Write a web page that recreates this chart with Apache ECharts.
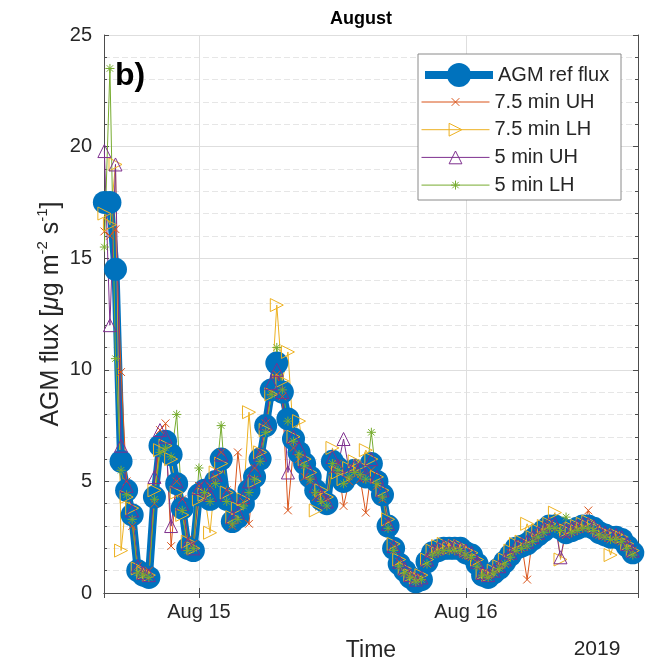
<!DOCTYPE html>
<html>
<head>
<meta charset="utf-8">
<title>August AGM flux</title>
<script src="https://cdn.jsdelivr.net/npm/echarts@6.0.0/dist/echarts.min.js"></script>
<style>
  html, body { margin: 0; padding: 0; background: #fff; }
  #chart { width: 649px; height: 662px; }
</style>
</head>
<body>
<div id="chart"></div>
<script>
// half-hourly samples, first one at 14 Aug 2019 15:30
const startTime = new Date(2019, 7, 14, 15, 30).getTime();
const stepMs = 30 * 60 * 1000;
const xMin = new Date(2019, 7, 14, 15, 28).getTime();
const xMax = new Date(2019, 7, 16, 15, 28).getTime();
const monthNames = ['Jan', 'Feb', 'Mar', 'Apr', 'May', 'Jun', 'Jul', 'Aug', 'Sep', 'Oct', 'Nov', 'Dec'];

const seriesNames = ['AGM ref flux', '7.5 min UH', '7.5 min LH', '5 min UH', '5 min LH'];

const refFlux = [
  17.5, 17.5, 14.5, 5.9, 4.6, 3.5, 1.0, 0.8, 0.7, 4.3, 6.6, 6.8,
  6.2, 4.9, 3.8, 2.0, 1.9, 4.4, 4.6, 4.2, 5.0, 6.0, 4.2, 3.2,
  3.4, 4.0, 4.6, 5.2, 6.0, 7.5, 9.1, 10.3, 9.0, 7.8, 6.9, 6.3,
  5.8, 5.2, 4.6, 4.2, 4.0, 5.9, 5.6, 5.0, 5.3, 5.5, 5.4, 5.2,
  5.8, 5.0, 4.4, 3.0, 2.0, 1.3, 1.0, 0.7, 0.5, 0.6, 1.4, 1.8,
  1.9, 2.0, 2.0, 2.0, 2.0, 1.8, 1.7, 1.3, 0.8, 0.7, 0.9, 1.1,
  1.4, 1.7, 2.0, 2.1, 2.2, 2.4, 2.6, 2.8, 3.0, 3.0, 2.9, 2.7,
  2.8, 2.9, 3.0, 3.0, 2.9, 2.7, 2.6, 2.5, 2.5, 2.4, 2.1, 1.8
];
const uh75 = [
  16.2, 16.0, 16.3, 9.9, 5.0, 3.0, 1.2, 0.9, 1.0, 4.0, 7.3, 7.6,
  2.1, 5.0, 4.2, 2.4, 2.2, 4.8, 4.3, 4.8, 5.2, 6.3, 4.6, 3.0,
  6.3, 4.1, 3.1, 5.6, 6.3, 7.6, 9.0, 9.8, 8.8, 3.7, 6.5, 6.0,
  5.2, 5.0, 4.3, 4.4, 4.2, 5.5, 5.8, 3.9, 5.0, 5.6, 5.1, 3.6,
  5.5, 4.8, 4.2, 3.2, 2.1, 1.4, 0.9, 0.8, 0.6, 0.7, 1.3, 1.9,
  2.0, 1.9, 2.1, 2.0, 1.9, 1.7, 1.6, 1.4, 0.9, 0.8, 0.9, 1.2,
  1.3, 1.8, 1.9, 2.2, 0.6, 2.5, 2.7, 2.9, 3.1, 2.9, 3.0, 2.6,
  2.9, 3.0, 3.0, 3.7, 2.8, 2.6, 2.7, 2.4, 2.6, 2.3, 2.2, 1.9
];
const lh75 = [
  17.0, 16.5, 19.2, 1.9, 4.3, 3.8, 1.1, 0.9, 0.8, 4.6, 6.4, 6.6,
  6.0, 4.5, 3.5, 2.3, 2.0, 4.2, 4.4, 2.7, 5.4, 5.8, 4.5, 3.4,
  3.8, 4.2, 8.1, 5.0, 6.3, 7.3, 8.9, 12.9, 9.5, 10.8, 7.0, 7.7,
  6.0, 5.4, 3.7, 4.6, 4.3, 6.5, 5.4, 5.1, 5.6, 5.9, 5.7, 6.4,
  6.0, 5.2, 4.6, 3.3, 2.2, 1.5, 1.1, 0.8, 0.7, 0.8, 1.5, 1.9,
  2.1, 2.2, 2.0, 2.1, 2.1, 1.9, 1.8, 1.5, 0.9, 0.8, 1.0, 1.2,
  1.5, 1.9, 2.2, 2.3, 3.1, 2.5, 2.8, 3.0, 3.1, 3.6, 1.5, 2.8,
  2.9, 3.0, 3.1, 3.2, 3.0, 2.8, 2.7, 1.7, 2.6, 2.5, 2.2, 1.9
];
const uh5 = [
  19.8, 12.0, 19.2, 6.6, 4.8, 3.7, 1.2, 0.9, 0.8, 5.2, 7.3, 7.0,
  3.0, 5.0, 4.0, 2.2, 2.0, 4.7, 4.8, 4.4, 5.3, 6.2, 4.4, 3.4,
  3.6, 4.3, 5.0, 5.5, 6.2, 7.6, 9.4, 10.0, 9.0, 5.4, 7.0, 6.5,
  5.9, 5.4, 4.8, 4.4, 4.1, 6.1, 5.7, 6.9, 5.5, 5.7, 5.6, 5.3,
  6.0, 5.2, 4.6, 3.1, 2.1, 1.4, 1.1, 0.8, 0.6, 0.7, 1.5, 1.9,
  2.0, 2.1, 2.1, 2.1, 2.0, 1.9, 1.8, 1.4, 0.9, 0.8, 1.0, 1.2,
  1.5, 1.8, 2.1, 2.2, 2.3, 2.5, 2.7, 2.9, 3.1, 3.1, 1.6, 2.8,
  2.9, 3.0, 3.1, 3.1, 3.0, 2.8, 2.7, 2.6, 2.6, 2.5, 2.2, 1.9
];
const lh5 = [
  15.5, 23.5, 10.5, 5.5, 4.4, 3.3, 0.9, 0.8, 0.7, 4.2, 6.3, 6.5,
  6.1, 8.0, 3.7, 1.9, 2.0, 5.6, 4.5, 4.1, 4.9, 7.5, 4.1, 3.1,
  3.3, 3.9, 4.5, 5.1, 5.9, 7.2, 8.9, 11.0, 9.1, 7.7, 6.8, 6.2,
  5.7, 5.1, 4.5, 4.1, 3.9, 5.8, 5.5, 4.9, 5.2, 5.4, 5.3, 5.1,
  7.2, 4.9, 4.3, 2.9, 1.9, 1.2, 0.9, 0.7, 0.5, 0.6, 1.3, 1.7,
  1.8, 1.9, 1.9, 1.9, 1.9, 1.7, 1.6, 1.2, 0.8, 0.7, 0.9, 1.1,
  1.3, 1.6, 1.9, 2.0, 2.1, 2.3, 2.5, 2.7, 2.9, 2.9, 2.8, 3.4,
  2.7, 2.8, 2.9, 2.9, 2.8, 2.6, 2.5, 2.4, 2.4, 2.3, 2.0, 1.7
];

const colors = ['#0072BD', '#D95319', '#EDB120', '#7E2F8E', '#77AC30'];
const markers = [
  'circle',
  'path://M0 0M20 20M4 4L16 16M4 16L16 4',           // x
  'path://M0 0L10 5L0 10Z',                           // >
  'path://M5 0L10 9L0 9Z',                            // ^
  'path://M0 0M20 20M3 10L17 10M10 3L10 17M5 5L15 15M5 15L15 5' // *
];
const textColor = '#262626';
const axisColor = '#4d4d4d';
const font = 'Liberation Sans';

const toPairs = (vals) => vals.map((v, i) => [startTime + i * stepMs, v]);

const fluxSeries = [refFlux, uh75, lh75, uh5, lh5].map((vals, k) => {
  if (k === 0) {
    return {
      name: seriesNames[0],
      type: 'line',
      data: toPairs(vals),
      symbol: markers[0],
      symbolSize: 23,
      clip: false,
      lineStyle: { color: colors[0], width: 8 },
      itemStyle: { color: colors[0] },
    };
  }
  return {
    name: seriesNames[k],
    type: 'line',
    data: toPairs(vals),
    symbol: markers[k],
    symbolSize: 13,
    clip: false,
    lineStyle: { color: colors[k], width: 1 },
    itemStyle: { color: 'rgba(0,0,0,0)', borderColor: colors[k], borderWidth: 1 },
  };
});

const dayLabel = (v) => {
  const d = new Date(v);
  if (d.getHours() !== 0 || d.getMinutes() !== 0) return '';
  return monthNames[d.getMonth()] + ' ' + d.getDate();
};

const myChart = echarts.init(document.getElementById('chart'));
myChart.setOption({
  animation: false,
  textStyle: { fontFamily: font },
  grid: { left: 104, right: 11, top: 35, bottom: 69, outerBoundsMode: 'none', containLabel: false },
  legend: [
    {
      data: [seriesNames[0]],
      orient: 'vertical',
      left: 421,
      top: 63,
      padding: 0,
      z: 11,
      itemWidth: 68,
      itemHeight: 30,
      selectedMode: false,
      lineStyle: { width: 8 },
      textStyle: { fontSize: 20, color: textColor, fontFamily: font, lineHeight: 20 },
    },
    {
      data: seriesNames.slice(1),
      orient: 'vertical',
      left: 421,
      top: 92,
      padding: 0,
      z: 11,
      itemWidth: 68,
      itemHeight: 16,
      itemGap: 7.7,
      selectedMode: false,
      lineStyle: { width: 1 },
      itemStyle: { borderWidth: 1 },
      textStyle: { fontSize: 20, color: textColor, fontFamily: font, lineHeight: 20 },
    },
  ],
  graphic: [
    {
      type: 'rect',
      z: 10,
      shape: { x: 418, y: 54, width: 203, height: 146 },
      style: { fill: '#fff', stroke: '#8a8a8a', lineWidth: 1 },
    },
    {
      type: 'text',
      x: 361,
      y: 19,
      style: { text: 'August', font: 'bold 18px ' + font, fill: '#000', align: 'center', verticalAlign: 'middle' },
    },
    {
      type: 'text',
      x: 115,
      y: 76,
      z: 10,
      style: { text: 'b)', font: 'bold 32px ' + font, fill: '#000', align: 'left', verticalAlign: 'middle' },
    },
    {
      type: 'text',
      x: 597,
      y: 649,
      style: { text: '2019', font: '21px ' + font, fill: textColor, align: 'center', verticalAlign: 'middle' },
    },
  ],
  xAxis: [
    {
      type: 'time',
      min: xMin,
      max: xMax,
      minInterval: 24 * 3600 * 1000,
      maxInterval: 24 * 3600 * 1000,
      axisLine: { lineStyle: { color: axisColor } },
      axisTick: { inside: true, length: 5, lineStyle: { color: axisColor } },
      axisLabel: { formatter: dayLabel, fontSize: 20, color: textColor, margin: 9, hideOverlap: false },
      splitLine: { show: true, lineStyle: { color: '#dedede' } },
      name: 'Time',
      nameLocation: 'middle',
      nameGap: 46,
      nameMoveOverlap: false,
      nameTextStyle: { fontSize: 23, color: textColor },
    },
    {
      type: 'time',
      position: 'top',
      min: xMin,
      max: xMax,
      minInterval: 24 * 3600 * 1000,
      maxInterval: 24 * 3600 * 1000,
      axisLine: { show: true, lineStyle: { color: axisColor } },
      axisTick: { show: true, inside: true, length: 5, lineStyle: { color: axisColor } },
      axisLabel: { show: false },
      splitLine: { show: false },
    },
  ],
  yAxis: [
    {
      type: 'value',
      min: 0,
      max: 25,
      interval: 5,
      axisLine: { show: true, lineStyle: { color: axisColor } },
      axisTick: { show: true, inside: true, length: 5, lineStyle: { color: axisColor } },
      minorTick: { show: true, splitNumber: 5, length: 3, lineStyle: { color: axisColor } },
      axisLabel: { fontSize: 20, color: textColor, margin: 12 },
      splitLine: { show: true, lineStyle: { color: '#dedede' } },
      minorSplitLine: { show: true, lineStyle: { color: '#e6e6e6', type: [6, 3] } },
      name: 'AGM flux [{mu|μ}g m{sup|-2} s{sup|-1}]',
      nameLocation: 'middle',
      nameRotate: 90,
      nameGap: 37,
      nameMoveOverlap: false,
      nameTextStyle: {
        fontSize: 25,
        lineHeight: 32,
        color: textColor,
        rich: {
          mu: { fontSize: 25, lineHeight: 32, fontStyle: 'italic', color: textColor },
          sup: { fontSize: 15, verticalAlign: 'top', color: textColor },
        },
      },
    },
    {
      type: 'value',
      position: 'right',
      min: 0,
      max: 25,
      interval: 5,
      axisLine: { show: true, lineStyle: { color: axisColor } },
      axisTick: { show: true, inside: true, length: 5, lineStyle: { color: axisColor } },
      minorTick: { show: true, splitNumber: 5, length: 3, lineStyle: { color: axisColor } },
      axisLabel: { show: false },
      splitLine: { show: false },
    },
  ],
  series: fluxSeries,
});
</script>
</body>
</html>
